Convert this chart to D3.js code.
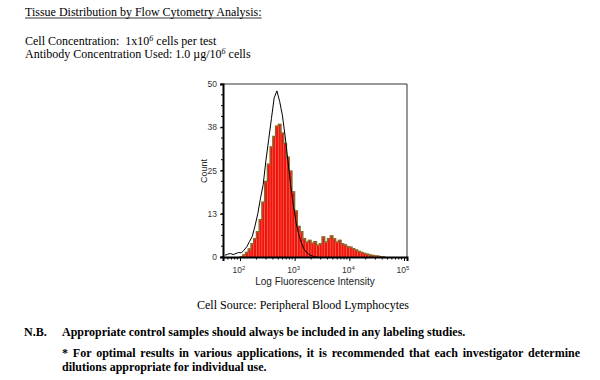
<!DOCTYPE html>
<html>
<head>
<meta charset="utf-8">
<script src="https://cdn.jsdelivr.net/npm/d3@7"></script>
<style>
  body { margin: 0; background: #fff; }
  svg { display: block; }
  text { white-space: pre; }
</style>
</head>
<body>
<script>
// histogram bins, log10 start of each bin, 0.05 decade wide
var binStart = 1.70, binStep = 0.05;
// stained sample (red filled)
var sampleCounts = [0, 0, 0, 0, 0, 0, 0.3, 0.8, 1.5, 2.5, 4, 5.5, 7.5, 11, 16, 22, 27, 32, 35, 38,
  38.5, 36, 33, 29, 25, 19, 13.5, 9, 7.5, 5.5, 4.5, 5, 4.2, 4.6, 3.6, 4, 6, 4.5, 5.5, 6.3,
  5.5, 4.5, 5, 4, 3.7, 3.2, 3, 2.6, 2.2, 1.8, 1.5, 1.2, 1, 0.8, 0.6, 0.5, 0.4, 0.3, 0.2, 0];
// isotype control (black outline)
var controlCounts = [0.5, 0.8, 1, 0.7, 1, 1.3, 1.2, 2, 3, 4.5, 6, 9, 12.5, 17, 21, 28, 34, 40, 46, 48,
  45, 41, 35, 28, 21, 15, 10, 6.5, 4, 2.2, 1.2, 0.6, 0.3, 0, 0];
var yTicks = [0, 12.5, 25, 37.5, 50];
var xDecades = [2, 3, 4, 5];

var headLines = ["Cell Concentration:  1x10", "Antibody Concentration Used: 1.0 \u00b5g/10"];

var svg = d3.select("body").append("svg")
  .attr("width", 600)
  .attr("height", 380);

var serif = "'Liberation Serif', 'Times New Roman', serif";
var sans = "'Liberation Sans', Arial, sans-serif";

// header text
var title = svg.append("text")
  .attr("x", 25).attr("y", 16)
  .style("font-family", serif).style("font-size", "12px")
  .text("Tissue Distribution by Flow Cytometry Analysis:");
var tw = title.node().getComputedTextLength();
svg.append("line")
  .attr("x1", 25).attr("x2", 25 + tw)
  .attr("y1", 18).attr("y2", 18)
  .attr("stroke", "#000").attr("stroke-width", 0.8);

var l1 = svg.append("text").attr("x", 25).attr("y", 45)
  .style("font-family", serif).style("font-size", "12px");
l1.append("tspan").text(headLines[0]);
l1.append("tspan").attr("dy", -4).style("font-size", "8px").style("font-style", "italic").text("6");
l1.append("tspan").attr("dy", 4).text(" cells per test");

var l2 = svg.append("text").attr("x", 25).attr("y", 58)
  .style("font-family", serif).style("font-size", "12px");
l2.append("tspan").text(headLines[1]);
l2.append("tspan").attr("dy", -4).style("font-size", "8px").style("font-style", "italic").text("6");
l2.append("tspan").attr("dy", 4).text(" cells");

// plot scales
var x = d3.scaleLog().domain([Math.pow(10, 1.689), Math.pow(10, 5.055)]).range([223, 407]);
var y = d3.scaleLinear().domain([0, 50]).range([257, 84]);

var plot = svg.append("g");

// sample histogram: olive underlay then red bars
var sampleBins = sampleCounts.map(function(c, i) {
  return { lo: binStart + i * binStep, hi: binStart + (i + 1) * binStep, c: c };
}).filter(function(d) { return d.c > 0; });

plot.selectAll("rect.under").data(sampleBins).enter().append("rect")
  .attr("class", "under")
  .attr("x", function(d) { return x(Math.pow(10, d.lo)); })
  .attr("width", function(d) { return x(Math.pow(10, d.hi)) - x(Math.pow(10, d.lo)) + 0.2; })
  .attr("y", function(d) { return y(d.c); })
  .attr("height", function(d) { return y(0) - y(d.c); })
  .attr("fill", "#f0784a");

plot.selectAll("rect.bar").data(sampleBins).enter().append("rect")
  .attr("class", "bar")
  .attr("x", function(d) { return x(Math.pow(10, d.lo)) + 0.3; })
  .attr("width", function(d) { return Math.max(0, x(Math.pow(10, d.hi)) - x(Math.pow(10, d.lo)) - 0.6); })
  .attr("y", function(d) { return Math.min(y(0), y(d.c) + 1.2); })
  .attr("height", function(d) { return Math.max(0, y(0) - y(d.c) - 1.2); })
  .attr("fill", "#f21212");

// olive edge along the top of the sample histogram
plot.append("path")
  .datum(sampleCounts.map(function(c, i) { return [binStart + (i + 0.5) * binStep, c]; }))
  .attr("fill", "none")
  .attr("stroke", "#8a6a2c")
  .attr("stroke-width", 1.3)
  .attr("d", d3.line().curve(d3.curveStep)
    .x(function(d) { return x(Math.pow(10, d[0])); })
    .y(function(d) { return y(d[1]) + 0.6; }));

// control outline
var ctrl = controlCounts.map(function(c, i) {
  return [binStart + (i + 0.5) * binStep, c];
});
plot.append("path")
  .datum(ctrl)
  .attr("fill", "none")
  .attr("stroke", "#000")
  .attr("stroke-width", 1)
  .attr("d", d3.line()
    .x(function(d) { return x(Math.pow(10, d[0])); })
    .y(function(d) { return y(d[1]); }));

// frame top & right
svg.append("path")
  .attr("d", "M223,84H407V257")
  .attr("fill", "none").attr("stroke", "#333").attr("stroke-width", 1);

// y axis
var yAxis = d3.axisLeft(y).tickValues(yTicks).tickSize(3)
  .tickFormat(function(d) { return Math.round(d); });
var gy = svg.append("g").attr("transform", "translate(223,0)").call(yAxis);
gy.select(".domain").attr("stroke-width", 2);
gy.selectAll("text").style("font-family", sans).style("font-size", "8.5px").attr("fill", "#333");
// minor y ticks
var yMinor = d3.range(0, 50.01, 50 / 16);
svg.append("g").selectAll("line").data(yMinor).enter().append("line")
  .attr("x1", 221).attr("x2", 223)
  .attr("y1", function(d) { return y(d); }).attr("y2", function(d) { return y(d); })
  .attr("stroke", "#000");

// x axis
var xMajor = xDecades.map(function(e) { return Math.pow(10, e); });
var xMinor = [];
[1, 2, 3, 4].forEach(function(e) {
  for (var m = 2; m <= 9; m++) {
    var v = m * Math.pow(10, e);
    if (v > x.domain()[0] && v < x.domain()[1]) xMinor.push(v);
  }
});
var xAxis = d3.axisBottom(x).tickValues(xMajor).tickSize(4).tickFormat("");
var gx = svg.append("g").attr("transform", "translate(0,257)").call(xAxis);
gx.select(".domain").attr("stroke-width", 2);
gx.selectAll("g.minor").data(xMinor).enter().append("line")
  .attr("x1", function(d) { return x(d); }).attr("x2", function(d) { return x(d); })
  .attr("y1", 0).attr("y2", 2.5)
  .attr("stroke", "#000");

var xl = svg.append("g").selectAll("text").data(xDecades).enter().append("text")
  .attr("x", function(d) { return x(Math.pow(10, d)) - 1; })
  .attr("y", 273)
  .attr("text-anchor", "middle")
  .style("font-family", sans).style("font-size", "8.5px").attr("fill", "#333");
xl.append("tspan").text("10");
xl.append("tspan").attr("dy", -3.5).style("font-size", "6px").text(function(d) { return d; });

svg.append("text")
  .attr("x", 315).attr("y", 285)
  .attr("text-anchor", "middle")
  .style("font-family", sans).style("font-size", "10px").attr("fill", "#222")
  .text("Log Fluorescence Intensity");

svg.append("text")
  .attr("transform", "translate(207,171) rotate(-90)")
  .attr("text-anchor", "middle")
  .style("font-family", sans).style("font-size", "9px").attr("fill", "#222")
  .text("Count");

// footer
svg.append("text")
  .attr("x", 303).attr("y", 309)
  .attr("text-anchor", "middle")
  .style("font-family", serif).style("font-size", "12px")
  .text("Cell Source: Peripheral Blood Lymphocytes");

svg.append("text")
  .attr("x", 24).attr("y", 336)
  .style("font-family", serif).style("font-size", "12px").style("font-weight", "bold")
  .text("N.B.");
svg.append("text")
  .attr("x", 62).attr("y", 336)
  .style("font-family", serif).style("font-size", "12px").style("font-weight", "bold")
  .text("Appropriate control samples should always be included in any labeling studies.");

var just = svg.append("text")
  .attr("x", 62).attr("y", 357)
  .style("font-family", serif).style("font-size", "12px").style("font-weight", "bold")
  .text("* For optimal results in various applications, it is recommended that each investigator determine");
var jw = just.node().getComputedTextLength();
var nSpaces = just.text().split(" ").length - 1;
just.style("word-spacing", ((580 - 62 - jw) / nSpaces) + "px");

svg.append("text")
  .attr("x", 62).attr("y", 371)
  .style("font-family", serif).style("font-size", "12px").style("font-weight", "bold")
  .text("dilutions appropriate for individual use.");
</script>
</body>
</html>
